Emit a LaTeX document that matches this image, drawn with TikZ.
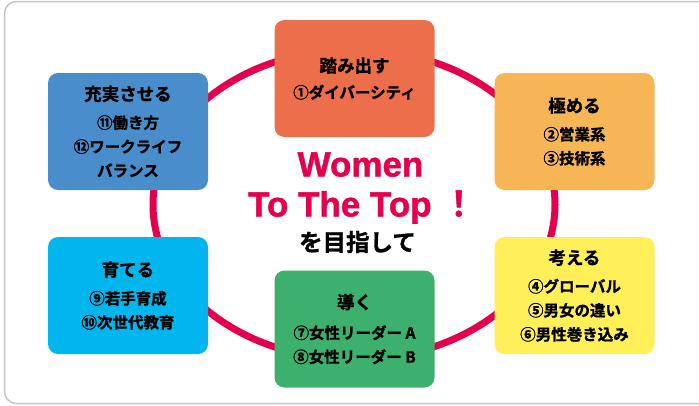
\documentclass[tikz,border=0pt]{standalone}
\usepackage{fontspec}
\setmainfont{Noto Sans CJK JP}
\newfontfamily\jpfont{Noto Sans CJK JP Bold}[FakeBold=1.2]
\newfontfamily\latfont{Liberation Sans Bold}[FakeBold=1.2]
\definecolor{ringred}{RGB}{228,0,75}
\definecolor{cOrange}{RGB}{237,110,74}
\definecolor{cAmber}{RGB}{247,182,86}
\definecolor{cBlue}{RGB}{74,141,203}
\definecolor{cCyan}{RGB}{0,182,237}
\definecolor{cGreen}{RGB}{61,176,110}
\definecolor{cYellow}{RGB}{255,240,90}
\newcommand{\boxtitle}[1]{{\fontsize{17.5}{24}\selectfont #1}}
\begin{document}
\begin{tikzpicture}[x=1pt,y=-1pt,
  box/.style={rounded corners=10pt, minimum width=160pt, minimum height=117pt,
    align=center, inner sep=0pt, text=black,
    font=\jpfont\fontsize{15.5}{24}\selectfont},
  frame/.style={draw=black!22, line width=1.5pt, rounded corners=12pt},
  ring/.style={draw=ringred, line width=7pt},
  bigred/.style={text=ringred, inner sep=0pt, font=\latfont\fontsize{35}{40}\selectfont},
  subtitle/.style={text=black, inner sep=0pt, font=\jpfont\fontsize{23.5}{28}\selectfont}
]
\useasboundingbox (0,0) rectangle (699,405);
\fill[white] (0,0) rectangle (699,405);
\draw[frame] (4.5,1.5) rectangle (716,403.5);
\draw[ring] (354,204.5) ellipse [x radius=201pt, y radius=155pt];

\node[box, fill=cOrange] (fumidasu) at (354.5,78.5)
  {\boxtitle{踏み出す}\\[2pt]①ダイバーシティ};
\node[box, fill=cAmber] (kiwameru) at (574.5,131.5)
  {\boxtitle{極める}\\[4pt]②営業系\\③技術系};
\node[box, fill=cBlue] (jujitsu) at (128,131.5)
  {\boxtitle{充実させる}\\[4pt]⑪働き方\\⑫ワークライフ\\バランス};
\node[box, fill=cCyan] (sodateru) at (128,295.5)
  {\boxtitle{育てる}\\[4pt]⑨若手育成\\⑩次世代教育};
\node[box, fill=cGreen] (michibiku) at (354.5,329)
  {\boxtitle{導く}\\[6pt]⑦女性リーダー A\\⑧女性リーダー B};
\node[box, fill=cYellow] (kangaeru) at (574.5,295.5)
  {\boxtitle{考える}\\[4pt]④グローバル\\⑤男女の違い\\⑥男性巻き込み};

\node[bigred, anchor=base] (women) at (360.5,176.5) {Women};
\node[bigred, anchor=base west] (tothetop) at (248,216.5) {To The Top {\jpfont ！}};
\node[subtitle] (mezashite) at (357.5,242) {を目指して};
\end{tikzpicture}
\end{document}
